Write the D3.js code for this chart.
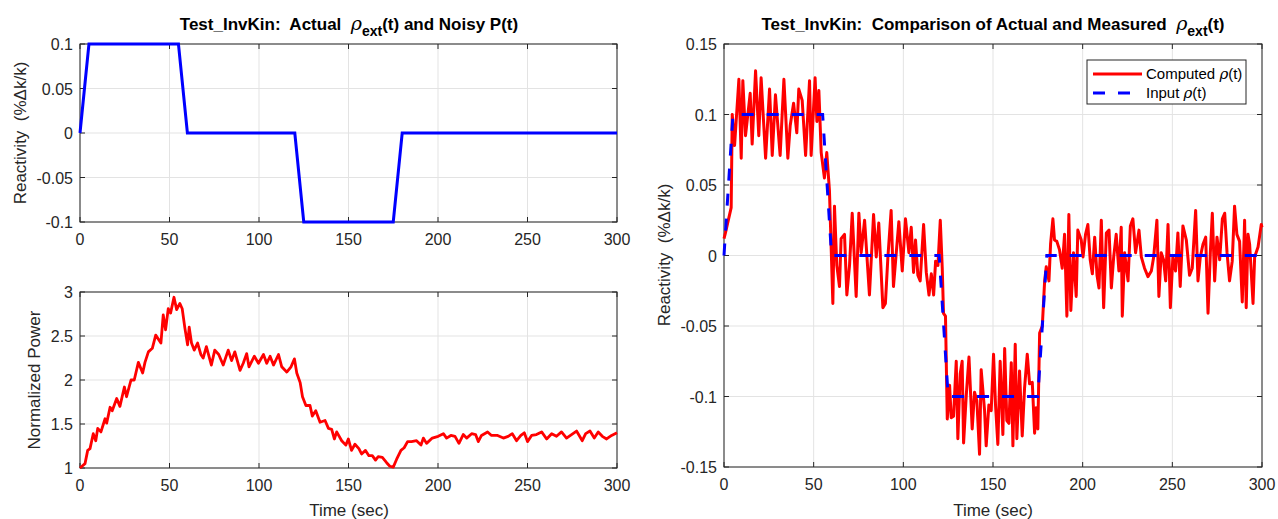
<!DOCTYPE html>
<html>
<head>
<meta charset="utf-8">
<script src="https://cdn.jsdelivr.net/npm/d3@7"></script>
<style>
  body { margin: 0; background: #fff; }
  svg { font-family: "Liberation Sans", Arial, sans-serif; }
  text { white-space: pre; }
</style>
</head>
<body>
<svg id="fig" width="1278" height="519"></svg>
<script>
// input reactivity (breakpoints of the ramps)
var inputT   = [0, 5, 55, 60, 120, 125, 175, 180, 300]
var inputRho = [0, 0.1, 0.1, 0, 0, -0.1, -0.1, 0, 0]

// noisy normalized power
var powerT = [0, 2.8, 4.3, 5.6, 7.4, 8.8, 9.9, 11.7, 14, 14.9, 16.8, 18, 20.5, 22.3, 24.8, 26, 28.5, 30.3,
  32.6, 35, 36.3, 38.2, 40.4, 42.3, 45.2, 46.5, 47.8, 49.3, 50.6, 52.5, 54, 55.8, 57.1, 58.6, 60.1, 61,
  62.3, 63.8, 65.7, 67.5, 68.8, 70.6, 73.4, 75.3, 77.5, 80, 82.8, 84.7, 86.5, 89.4, 91.2, 93.1, 94.4,
  97.4, 99.7, 102.5, 104.3, 106.2, 108.1, 110.9, 112.7, 115.5, 117.9, 119.8, 121.1, 123, 124.3, 126.2,
  128.5, 129.8, 131.7, 134.1, 136.9, 138.8, 140.6, 142.1, 143.4, 146.2, 148.5, 149.9, 151.7, 153.6,
  155.8, 157.3, 159.5, 161.4, 163.3, 165.1, 166.6, 168.9, 171.3, 173.1, 175, 176.9, 179.3, 181.1, 183,
  185.2, 188, 190.5, 191.8, 193.6, 196.8, 200.1, 203, 204.8, 207.2, 209.5, 211.7, 214.1, 216, 218.8,
  221, 222.5, 224.3, 227.7, 229.9, 233.3, 236.5, 239.2, 241.5, 243.9, 246.3, 248.2, 250, 252.3, 255,
  257.9, 260.7, 263.5, 266.2, 269, 271.8, 274.6, 277.4, 280.6, 282.5, 284.9, 287.3, 289.5, 291.8,
  294.2, 297, 300]
var powerVal = [1.0, 1.05, 1.2, 1.22, 1.39, 1.31, 1.45, 1.41, 1.56, 1.51, 1.69, 1.65, 1.79, 1.7, 1.92, 1.81, 2.0, 2.0,
  2.2, 2.08, 2.2, 2.32, 2.36, 2.51, 2.42, 2.74, 2.57, 2.81, 2.76, 2.94, 2.8, 2.87, 2.81, 2.59, 2.4, 2.6,
  2.42, 2.34, 2.42, 2.29, 2.25, 2.38, 2.17, 2.34, 2.29, 2.17, 2.34, 2.22, 2.32, 2.11, 2.19, 2.3, 2.15,
  2.27, 2.19, 2.29, 2.19, 2.27, 2.17, 2.29, 2.15, 2.09, 2.15, 2.24, 2.08, 1.97, 1.81, 1.71,
  1.71, 1.59, 1.65, 1.52, 1.54, 1.45, 1.44, 1.33, 1.41, 1.31, 1.26, 1.33, 1.2, 1.27,
  1.22, 1.16, 1.2, 1.14, 1.14, 1.09, 1.13, 1.12, 1.06, 1.02, 1.01, 1.1, 1.2, 1.23, 1.3,
  1.3, 1.31, 1.26, 1.34, 1.28, 1.34, 1.36, 1.39, 1.34, 1.37, 1.36, 1.28, 1.38, 1.34, 1.39,
  1.38, 1.3, 1.37, 1.41, 1.37, 1.37, 1.34, 1.36, 1.39, 1.31, 1.37, 1.4, 1.3, 1.37, 1.38,
  1.41, 1.33, 1.39, 1.36, 1.41, 1.34, 1.38, 1.42, 1.31, 1.39, 1.42, 1.34, 1.41, 1.36,
  1.33, 1.37, 1.4]

// computed reactivity from inverse kinetics
var compT = [0, 0.8, 4, 4.6, 5.9, 8.3, 9.6, 10.5, 12, 14.6, 15.7, 17.6, 19.4, 20.7, 23.2, 25.4, 26.9, 28.7,
  31.3, 33.4, 35.6, 36.9, 38.8, 40.6, 41.7, 43.6, 45.5, 47.7, 48.6, 50.8, 51.8, 52.9, 54.2, 56, 57.3,
  58.8, 60.7, 61.6, 62.9, 64.4, 65.3, 67.2, 68.5, 70, 71.5, 73.7, 75.2, 76.5, 78.4, 81.1, 83.4, 84.9,
  86.3, 88.6, 90, 91.4, 93.2, 94.5, 97.5, 99.4, 101.2, 103.1, 104.4, 105.7, 106.8, 108.1, 109.4,
  111.3, 112.8, 114.3, 115.6, 116.9, 118, 119.3, 120.6, 121.7, 122.4, 123.5, 124.5, 125.8, 126.7, 128,
  129.5, 130.4, 131.7, 132.8, 133.6, 135.1, 136.6, 138.4, 139.7, 141, 142.5, 143.4, 145.3, 146.2,
  147.7, 149, 150.3, 151.4, 152.7, 154, 155.5, 156.5, 157.7, 158.9, 160.2, 161.1, 162.4, 163.3, 164.8,
  166.3, 167.6, 169.1, 170.4, 171.9, 173.2, 174.1, 175, 176, 177.5, 178.8, 179.7, 181.2, 182.1, 183.4,
  184.3, 185.6, 187.1, 188.6, 189.9, 191.2, 192.3, 193.4, 194.9, 196.4, 197.3, 199.2, 200.2, 201.6,
  202.9, 204.2, 205.4, 206.7, 208, 209.1, 210.4, 211.7, 213.2, 214.7, 216, 217.3, 218.7, 220.2, 221.5,
  222.1, 223.4, 225.3, 226.6, 228, 229.5, 231.4, 232.7, 234.5, 236.4, 238.3, 239.6, 241.4, 242.5,
  243.8, 245.1, 246.3, 247.6, 248.9, 250.3, 251.8, 253.1, 254.4, 255.9, 257.8, 259.6, 261.1, 263,
  264.3, 265.6, 267.1, 268.6, 269.9, 271.2, 272.3, 273.6, 274.9, 276.4, 277.9, 279.2, 280.5, 281.9,
  283.4, 284.7, 286, 287.5, 289, 290.3, 291.2, 292.2, 293.1, 295, 295.9, 297.8, 299.6, 300]
var compVal = [0.012, 0.016, 0.034, 0.1, 0.078, 0.125, 0.069, 0.124, 0.085, 0.115, 0.079, 0.131, 0.085, 0.126, 0.069, 0.118, 0.071, 0.114,
  0.071, 0.125, 0.069, 0.092, 0.108, 0.087, 0.118, 0.11, 0.071, 0.124, 0.071, 0.126, 0.095, 0.117, 0.073, 0.055, 0.073,
  0.046, -0.034, 0.035, -0.007, -0.022, 0.012, 0.015, -0.028, -0.007, 0.03, -0.029, 0.03, 0.002, 0.025, -0.028, 0.029, -0.001,
  0.023, -0.037, -0.034, -0.001, 0.032, -0.022, 0.024, -0.011, 0.026, 0.002, 0.02, -0.012, 0.011, -0.014, -0.018,
  0.022, -0.012, -0.028, -0.013, -0.028, -0.004, -0.007, 0.025, -0.009, -0.041, -0.043, -0.116, -0.092, -0.115, -0.114,
  -0.075, -0.13, -0.084, -0.075, -0.133, -0.099, -0.072, -0.123, -0.097, -0.103, -0.141, -0.081, -0.11, -0.135,
  -0.106, -0.11, -0.07, -0.106, -0.134, -0.075, -0.127, -0.066, -0.117, -0.119, -0.076, -0.135, -0.063, -0.13, -0.082,
  -0.128, -0.094, -0.07, -0.091, -0.09, -0.126, -0.108, -0.123, -0.055, -0.05, -0.018, -0.008, -0.018, 0.008, 0.026,
  0.011, 0.01, 0.004, -0.009, 0.015, -0.043, 0.029, -0.039, 0.002, -0.029, 0.018, 0.011, -0.001, 0.015,
  0.022, -0.003, -0.013, 0.013, -0.014, -0.023, 0.025, -0.037, 0.016, 0.018, -0.023, -0.001, 0.015, -0.011, 0.02,
  -0.043, 0.002, -0.018, 0.021, 0.026, 0.002, 0.018, -0.001, -0.009, -0.015, -0.011, -0.001, 0.025, -0.029,
  0.002, -0.003, -0.018, 0.022, -0.037, -0.001, -0.011, 0.016, -0.022, 0.021, 0.011, -0.014, -0.009, 0.032,
  -0.018, -0.001, 0.008, 0.013, -0.041, 0.002, 0.03, -0.018, 0.013, -0.003, 0.026, 0.03, 0.002, -0.018,
  -0.004, 0.035, 0.015, 0.01, -0.033, 0.025, -0.037, 0.015, 0.008, -0.034, -0.001, 0.006, 0.022, 0.02]

var xTicks = [0, 50, 100, 150, 200, 250, 300]
var rhoTicksLeft = [-0.1, -0.05, 0, 0.05, 0.1]
var powerTicks = [1, 1.5, 2, 2.5, 3]
var rhoTicksRight = [-0.15, -0.1, -0.05, 0, 0.05, 0.1, 0.15]

//drawing style
var axisColor = "#262626"
var gridColor = "#e3e3e3"
var tickLen = 5
var tickFont = 16
var labelFont = 17

var svg = d3.select("#fig")

// draws one matlab-style axes box with grid and inward ticks, returns scales
function makeAxes(box, yDomain, yTicks, yFmt) {
    var x = d3.scaleLinear().domain([0, 300]).range([box.left, box.right])
    var y = d3.scaleLinear().domain(yDomain).range([box.bottom, box.top])
    var g = svg.append("g")

    g.selectAll(".gx").data(xTicks).enter().append("line")
     .attr("x1", d => x(d)).attr("x2", d => x(d))
     .attr("y1", box.top).attr("y2", box.bottom)
     .attr("stroke", gridColor).attr("stroke-width", 1)
    g.selectAll(".gy").data(yTicks).enter().append("line")
     .attr("y1", d => y(d)).attr("y2", d => y(d))
     .attr("x1", box.left).attr("x2", box.right)
     .attr("stroke", gridColor).attr("stroke-width", 1)

    var axes = svg.append("g").attr("class", "frame")
    var plot = svg.append("g")
    var clip = "clip" + Math.round(box.left) + Math.round(box.top)
    svg.append("clipPath").attr("id", clip).append("rect")
       .attr("x", box.left - 2).attr("y", box.top - 2)
       .attr("width", box.right - box.left + 4).attr("height", box.bottom - box.top + 4)
    plot.attr("clip-path", "url(#" + clip + ")")

    axes.append("rect")
        .attr("x", box.left).attr("y", box.top)
        .attr("width", box.right - box.left).attr("height", box.bottom - box.top)
        .attr("fill", "none").attr("stroke", axisColor).attr("stroke-width", 1)

    // ticks on all sides, pointing in
    xTicks.forEach(function(d) {
        axes.append("line").attr("x1", x(d)).attr("x2", x(d))
            .attr("y1", box.bottom).attr("y2", box.bottom - tickLen).attr("stroke", axisColor)
        axes.append("line").attr("x1", x(d)).attr("x2", x(d))
            .attr("y1", box.top).attr("y2", box.top + tickLen).attr("stroke", axisColor)
        axes.append("text").attr("x", x(d)).attr("y", box.bottom + 23)
            .attr("text-anchor", "middle").attr("font-size", tickFont).attr("fill", axisColor)
            .text(d)
    })
    yTicks.forEach(function(d) {
        axes.append("line").attr("y1", y(d)).attr("y2", y(d))
            .attr("x1", box.left).attr("x2", box.left + tickLen).attr("stroke", axisColor)
        axes.append("line").attr("y1", y(d)).attr("y2", y(d))
            .attr("x1", box.right).attr("x2", box.right - tickLen).attr("stroke", axisColor)
        axes.append("text").attr("x", box.left - 7).attr("y", y(d) + 6)
            .attr("text-anchor", "end").attr("font-size", tickFont).attr("fill", axisColor)
            .text(yFmt(d))
    })
    return {x: x, y: y, plot: plot, axes: axes}
}

function fmt(d) { return d === 0 ? "0" : String(+d.toFixed(2)) }

// title with a TeX-like rho_ext
function title(cx, cy, before, after) {
    var t = svg.append("text").attr("x", cx).attr("y", cy)
               .attr("text-anchor", "middle").attr("font-size", 17)
               .attr("font-weight", "bold").attr("fill", "#000")
    t.append("tspan").text(before)
    t.append("tspan").attr("font-family", "'DejaVu Serif', 'Liberation Serif', serif")
     .attr("font-style", "italic").attr("font-weight", "normal").attr("font-size", 19).text("\u03C1")
    t.append("tspan").attr("dy", 6).attr("font-size", 14).text("ext")
    t.append("tspan").attr("dy", -6).text(after)
}

function yLabel(cx, cy, txt) {
    svg.append("text").attr("transform", "translate(" + cx + "," + cy + ") rotate(-90)")
       .attr("text-anchor", "middle").attr("font-size", labelFont).attr("fill", axisColor)
       .text(txt)
}
function xLabel(cx, cy, txt) {
    svg.append("text").attr("x", cx).attr("y", cy)
       .attr("text-anchor", "middle").attr("font-size", labelFont).attr("fill", axisColor)
       .text(txt)
}

var inputPts = inputT.map((t, i) => [t, inputRho[i]])
var powerPts = powerT.map((t, i) => [t, powerVal[i]])
var compPts = compT.map((t, i) => [t, compVal[i]])

//top left: actual reactivity
var a1 = makeAxes({left: 80, right: 617, top: 44, bottom: 222}, [-0.1, 0.1], rhoTicksLeft, fmt)
a1.plot.append("path").datum(inputPts)
  .attr("d", d3.line().x(d => a1.x(d[0])).y(d => a1.y(d[1])))
  .attr("fill", "none").attr("stroke", "#0000ff").attr("stroke-width", 3)
title(349, 30, "Test_InvKin:  Actual  ", "(t) and Noisy P(t)")
yLabel(26, 133, "Reactivity  (%\u0394k/k)")

//bottom left: power
var a2 = makeAxes({left: 80, right: 617, top: 292, bottom: 468}, [1, 3], powerTicks, d => String(d))
a2.plot.append("path").datum(powerPts)
  .attr("d", d3.line().x(d => a2.x(d[0])).y(d => a2.y(d[1])))
  .attr("fill", "none").attr("stroke", "#ff0000").attr("stroke-width", 2.8)
  .attr("stroke-linejoin", "round")
yLabel(40, 380, "Normalized Power")
xLabel(349, 516, "Time (sec)")

//right: comparison
var a3 = makeAxes({left: 724, right: 1262, top: 44, bottom: 467}, [-0.15, 0.15], rhoTicksRight, fmt)
a3.plot.append("path").datum(compPts)
  .attr("d", d3.line().x(d => a3.x(d[0])).y(d => a3.y(d[1])))
  .attr("fill", "none").attr("stroke", "#ff0000").attr("stroke-width", 3)
  .attr("stroke-linejoin", "round")
a3.plot.append("path").datum(inputPts)
  .attr("d", d3.line().x(d => a3.x(d[0])).y(d => a3.y(d[1])))
  .attr("fill", "none").attr("stroke", "#0000ff").attr("stroke-width", 3)
  .attr("stroke-dasharray", "12,13")
title(993, 30, "Test_InvKin:  Comparison of Actual and Measured  ", "(t)")
yLabel(670, 255, "Reactivity  (%\u0394k/k)")
xLabel(993, 516, "Time (sec)")

//legend
var leg = svg.append("g")
leg.append("rect").attr("x", 1087).attr("y", 60).attr("width", 159).attr("height", 44)
   .attr("fill", "#fff").attr("stroke", axisColor).attr("stroke-width", 1)
var legItems = [{c: "#ff0000", dash: null, label: "Computed "}, {c: "#0000ff", dash: "12,13", label: "Input "}]
legItems.forEach(function(d, i) {
    var ly = 74 + i * 19
    leg.append("line").attr("x1", 1093).attr("x2", 1142).attr("y1", ly).attr("y2", ly)
       .attr("stroke", d.c).attr("stroke-width", 3).attr("stroke-dasharray", d.dash)
    var t = leg.append("text").attr("x", 1146).attr("y", ly + 5).attr("font-size", 15).attr("fill", "#000")
    t.append("tspan").text(d.label)
    t.append("tspan").attr("font-family", "'DejaVu Serif', 'Liberation Serif', serif")
     .attr("font-style", "italic").text("\u03C1")
    t.append("tspan").text("(t)")
})
</script>
</body>
</html>
